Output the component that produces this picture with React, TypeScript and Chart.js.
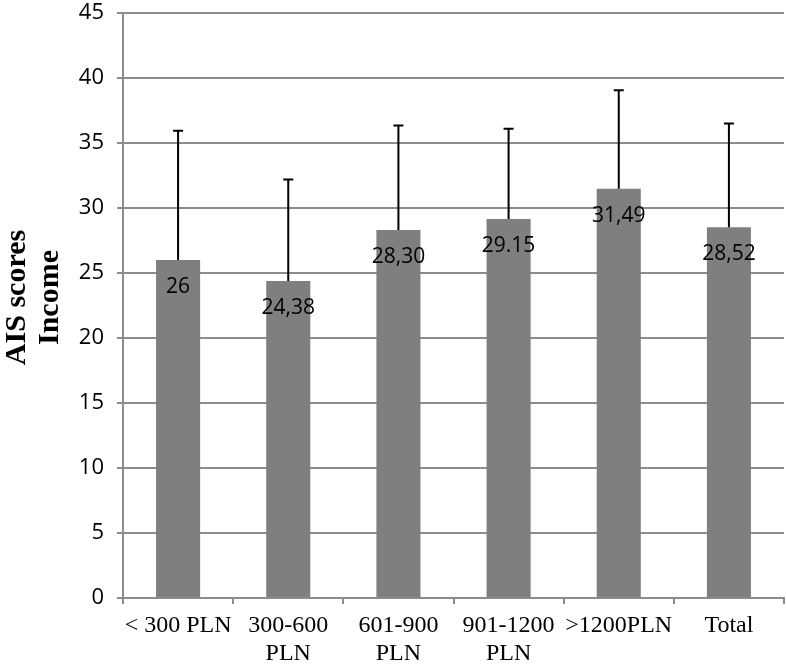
import React, { useEffect, useRef } from "react";
import { Chart, registerables } from "chart.js";

Chart.register(...registerables);

const categories: string[][] = [
  ["< 300 PLN"],
  ["300-600", "PLN"],
  ["601-900", "PLN"],
  ["901-1200", "PLN"],
  [">1200PLN"],
  ["Total"],
];
const means: number[] = [26, 24.38, 28.3, 29.15, 31.49, 28.52];
const valueLabels: string[] = ["26", "24,38", "28,30", "29.15", "31,49", "28,52"];
const errorHighs: number[] = [35.95, 32.2, 36.35, 36.1, 39.05, 36.5];
const yTicks = { min: 0, max: 45, step: 5 };
const yTitle: string[] = ["AIS scores", "Income"];

const GRID = "#8c8c8c";
const SERIF = "'Liberation Serif', 'Times New Roman', serif";

const overlayPlugin = {
  id: "overlay",
  afterDatasetsDraw(chart: any) {
    const { ctx } = chart;
    const meta = chart.getDatasetMeta(0);
    const y = chart.scales.y;
    ctx.save();
    meta.data.forEach((bar: any, i: number) => {
      const x = bar.x;
      const top = y.getPixelForValue(means[i]);
      const hi = y.getPixelForValue(errorHighs[i]);
      ctx.strokeStyle = "#000";
      ctx.lineWidth = 2;
      ctx.beginPath();
      ctx.moveTo(x, top);
      ctx.lineTo(x, hi);
      ctx.moveTo(x - 5, hi);
      ctx.lineTo(x + 5, hi);
      ctx.stroke();
      ctx.fillStyle = "#000";
      ctx.font = "21px 'Open Sans'";
      ctx.textAlign = "center";
      ctx.textBaseline = "middle";
      ctx.fillText(valueLabels[i], x, top + 27);
    });
    // rotated y-axis title
    const area = chart.chartArea;
    const cy = (area.top + area.bottom) / 2 - 8;
    ctx.translate(17, cy);
    ctx.rotate(-Math.PI / 2);
    ctx.font = "bold 30px " + SERIF;
    ctx.fillStyle = "#000";
    ctx.textAlign = "center";
    ctx.textBaseline = "middle";
    yTitle.forEach((line, i) => ctx.fillText(line, 0, i * 33));
    ctx.restore();
  },
};

export default function App() {
  const ref = useRef<HTMLCanvasElement | null>(null);
  useEffect(() => {
    if (!ref.current) return;
    const chart = new Chart(ref.current, {
      type: "bar",
      data: {
        labels: categories,
        datasets: [
          {
            data: means,
            backgroundColor: "#7f7f7f",
            borderWidth: 0,
            barPercentage: 0.4,
            categoryPercentage: 1,
          },
        ],
      },
      options: {
        animation: false,
        responsive: false,
        maintainAspectRatio: false,
        layout: { padding: { top: 13, right: 2, left: 0, bottom: 0 } },
        plugins: { legend: { display: false }, tooltip: { enabled: false } },
        scales: {
          x: {
            grid: {
              display: true,
              drawOnChartArea: false,
              drawTicks: true,
              tickLength: 6,
              color: GRID,
              lineWidth: 2,
            },
            border: { color: GRID, width: 2 },
            ticks: {
              color: "#000",
              padding: 8,
              maxRotation: 0,
              autoSkip: false,
              font: { family: SERIF, size: 24, lineHeight: 1.15 },
            },
            afterFit(scale: any) {
              scale.height = 70;
              scale.paddingLeft = 0;
              scale.paddingRight = 0;
            },
          },
          y: {
            min: yTicks.min,
            max: yTicks.max,
            grid: {
              color: GRID,
              lineWidth: 2,
              tickLength: 6,
              drawTicks: true,
            },
            border: { color: GRID, width: 2 },
            ticks: {
              stepSize: yTicks.step,
              color: "#000",
              padding: 13,
              font: { family: "'Open Sans'", size: 22 },
            },
            title: { display: false },
            afterFit(scale: any) {
              scale.width = 123;
              scale.paddingTop = 0;
              scale.paddingBottom = 0;
            },
          },
        },
      },
      plugins: [overlayPlugin],
    });
    return () => chart.destroy();
  }, []);
  return (
    <div style={{ position: "fixed", left: 0, top: 0, width: 786, height: 668, background: "#fff" }}>
      <canvas ref={ref} width={786} height={668} style={{ display: "block", width: 786, height: 668 }} />
    </div>
  );
}
